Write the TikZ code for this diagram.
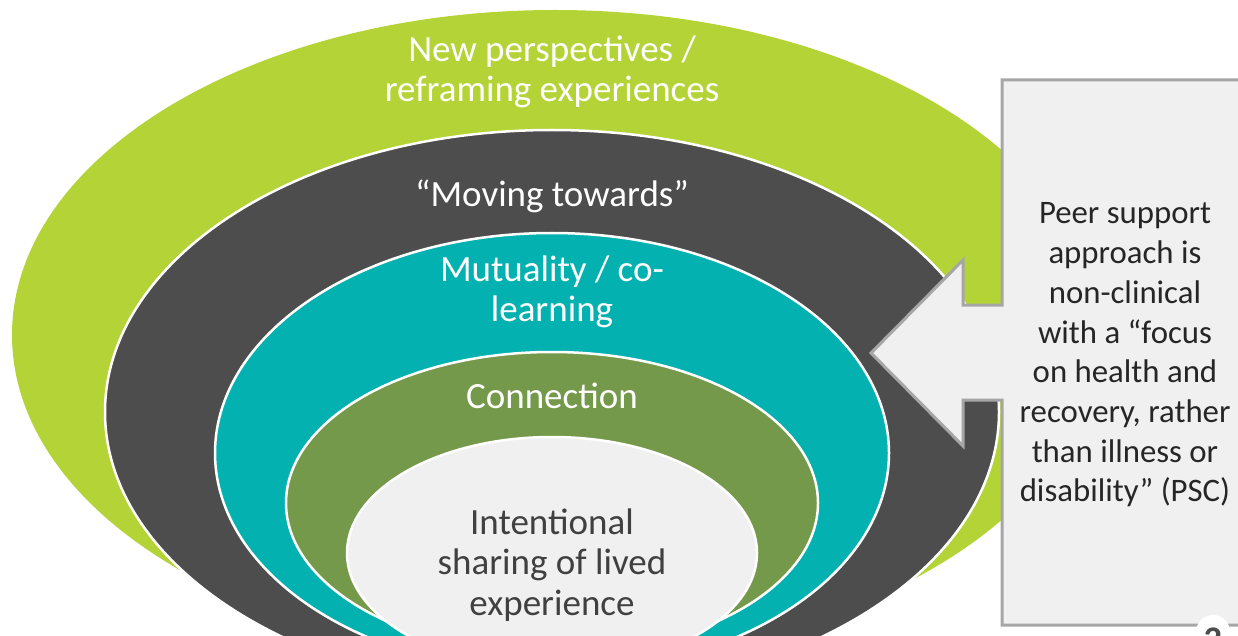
\documentclass[tikz,border=0pt]{standalone}
\usepackage{fontspec}
\usepackage{xcolor}
\setmainfont{Carlito}
\usetikzlibrary{positioning}

\definecolor{limegreen}{HTML}{B4D336}
\definecolor{darkring}{HTML}{4D4D4D}
\definecolor{tealring}{HTML}{03B1B0}
\definecolor{olivering}{HTML}{74994A}
\definecolor{corefill}{HTML}{F0F0F0}
\definecolor{boxline}{HTML}{A6A6A6}
\definecolor{coretext}{HTML}{404040}
\definecolor{boxtext}{HTML}{262626}

\tikzset{
    ring/.style={draw=white, line width=2.5pt},
    ringlabel/.style={align=center, text=white, font=\fontsize{37}{40.5}\selectfont, inner sep=0pt},
    calloutbox/.style={fill=corefill, draw=boxline, line width=3pt, line join=miter},
}

\begin{document}
\begin{tikzpicture}[x=1pt, y=-1pt]
    \useasboundingbox (0,0) rectangle (1238,636);

    \fill[limegreen] (555,335) ellipse [x radius=543pt, y radius=325pt];
    \filldraw[ring, fill=darkring] (552,412) ellipse [x radius=447pt, y radius=282pt];
    \filldraw[ring, fill=tealring] (552,453) ellipse [x radius=337pt, y radius=220pt];
    \filldraw[ring, fill=olivering] (552,503) ellipse [x radius=266pt, y radius=151pt];
    \filldraw[ring, fill=corefill] (552,553) ellipse [x radius=205pt, y radius=116pt];

    \node[ringlabel] (perspectives) at (552,72) {New perspectives /\\reframing experiences};
    \node[ringlabel] (moving) at (552,196) {``Moving towards''};
    \node[ringlabel] (mutuality) at (552,292) {Mutuality / co-\\learning};
    \node[ringlabel] (connection) at (552,396) {Connection};
    \node[ringlabel, text=coretext] (sharing) at (552,565) {Intentional\\sharing of lived\\experience};

    \filldraw[calloutbox] (1250,80) -- (1002,80) -- (1002,305) -- (963,305) -- (963,260)
        -- (871,353) -- (963,446) -- (963,400) -- (1002,400) -- (1002,625) -- (1250,625);
    \node[ringlabel, text=boxtext, font=\fontsize{32.8}{39.7}\selectfont] (peer) at (1125,355)
        {Peer support\\approach is\\non-clinical\\with a ``focus\\on health and\\recovery, rather\\than illness or\\disability'' (PSC)};

    \fill[white] (1213,632) circle [radius=17pt];
    \node[text=darkring, font=\fontsize{36}{36}\selectfont\bfseries] (pagenum) at (1213,640) {2};
\end{tikzpicture}
\end{document}
